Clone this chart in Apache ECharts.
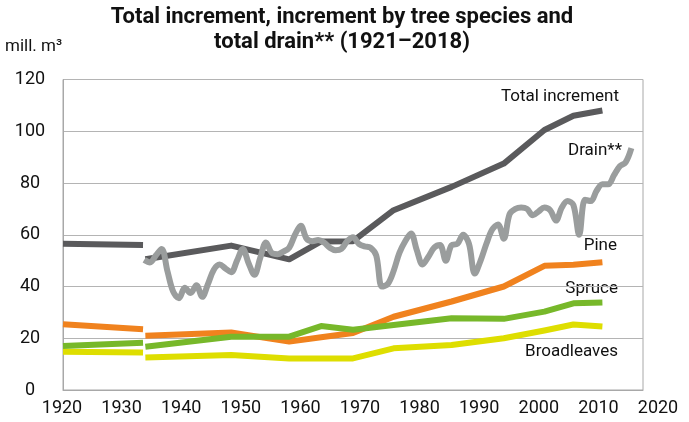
<!DOCTYPE html>
<html><head><meta charset="utf-8">
<script src="https://cdn.jsdelivr.net/npm/echarts@6/dist/echarts.min.js"></script>
<style>html,body{margin:0;padding:0;background:#fff}#c{width:689px;height:422px}</style>
</head><body><div id="c"></div>
<script>
// Increment series (inventory periods); null marks the break between the two series parts
const incYears      = [1920, 1933.8, null, 1934.2, 1949, 1959, 1964.5, 1970, 1977, 1987, 1996, 2003, 2008, 2013];
const totalIncrement= [56.5, 56,     null, 50.5,   55.8, 50.5, 57.4,   57.5, 69.5, 78.5, 87.5, 100.5, 106, 108];
const pine          = [25.4, 23.5,   null, 21,     22.2, 18.7, 20.4,   22,   28.3, 34.2, 40,   48,    48.4, 49.4];
const spruce        = [17,   18.3,   null, 16.7,   20.6, 20.6, 24.7,   23.3, 25.1, 27.7, 27.5, 30.3,  33.5, 33.8];
const broadleaves   = [14.8, 14.5,   null, 12.6,   13.5, 12.2, 12.2,   12.2, 16.1, 17.4, 20,   23,    25.3, 24.5];

// Annual total drain
const drainYears = [1934,1935,1936,1937,1938,1939,1940,1941,1942,1943,1944,1945,1946,1947,1948,1949,
  1950,1951,1952,1953,1954,1955,1956,1957,1958,1959,1960,1961,1962,1963,1964,1965,1966,1967,1968,1969,
  1970,1971,1972,1973,1974,1975,1976,1977,1978,1979,1980,1981,1982,1983,1984,1985,1986,1987,1988,1989,
  1990,1991,1992,1993,1994,1995,1996,1997,1998,1999,2000,2001,2002,2003,2004,2005,2006,2007,2008,2009,
  2010,2011,2012,2013,2014,2015,2016,2017,2018];
const drain = [50.3,49.3,52,54.5,46,38,35.5,39.5,37.5,40.5,36,41,46.5,48.5,47,45.5,
  50,54.5,49,44.5,51,57,53,52.5,53.5,55,60,63.5,58.5,57.5,58,57,55,54,54.5,57.5,
  59,56.5,55.5,55,52,40,41,46,53,57.5,60.5,54,48.5,51.5,55,56,50,56,56.5,60,
  56.5,45,50,56.5,62,64,58.5,68,70,70.5,70,67.5,69,70.5,69.5,65.5,70.5,73,71.5,60,
  73.5,73,77,79.5,79.5,83,86.5,88,93.5];

const yTicks = [0, 20, 40, 60, 80, 100, 120];
const xTicks = [1920, 1930, 1940, 1950, 1960, 1970, 1980, 1990, 2000, 2010, 2020];

function pairs(xs, ys) {
  return xs.map((x, i) => (x === null || ys[i] === null) ? [NaN, NaN] : [x, ys[i]]);
}

const FONT = 'Roboto, "Noto Sans", sans-serif';
const chart = echarts.init(document.getElementById('c'), null, {renderer: 'canvas'});

function lineSeries(name, data, color, width, smooth, z) {
  return {
    name, type: 'line', data, showSymbol: false, symbol: 'none',
    smooth: smooth, connectNulls: false, z: z, xAxisIndex: 0, yAxisIndex: 0,
    lineStyle: {color, width, cap: 'butt', join: 'round'},
    emphasis: {disabled: true}, animation: false
  };
}

chart.setOption({
  animation: false,
  backgroundColor: '#fff',
  title: {
    text: 'Total increment, increment by tree species and\ntotal drain** (1921–2018)',
    left: 337, top: 0, textAlign: 'center',
    textStyle: {fontFamily: FONT, fontWeight: 'bold', fontSize: 22, lineHeight: 25, color: '#111'}
  },
  grid: [
    {left: 63, right: 46, top: 79.5, bottom: 32, show: true, borderColor: '#a8a8a8', borderWidth: 1, backgroundColor: 'transparent'},
    // tick-label layer: in the reference the year labels run slightly wider than the plot box
    {left: 62, right: 31, top: 79.5, bottom: 32, show: false}
  ],
  xAxis: [
    {
      type: 'value', gridIndex: 0, min: xTicks[0], max: xTicks[xTicks.length - 1], interval: 10,
      axisLine: {show: true, lineStyle: {color: '#a8a8a8', width: 1}},
      axisTick: {show: false}, splitLine: {show: false}, axisLabel: {show: false}
    },
    {
      type: 'value', gridIndex: 1, min: xTicks[0], max: xTicks[xTicks.length - 1], interval: 10,
      axisLine: {show: false}, axisTick: {show: false}, splitLine: {show: false},
      axisLabel: {color: '#111', fontFamily: FONT, fontSize: 18, margin: 9,
        formatter: v => xTicks.includes(v) ? String(v) : ''}
    }
  ],
  yAxis: [
    {
      type: 'value', gridIndex: 0, min: yTicks[0], max: yTicks[yTicks.length - 1], interval: 20,
      axisLine: {show: true, lineStyle: {color: '#a8a8a8', width: 1}},
      axisTick: {show: false},
      splitLine: {show: true, lineStyle: {color: '#b4b4b4', width: 1}},
      axisLabel: {color: '#111', fontFamily: FONT, fontSize: 18, margin: 33, align: 'center',
        formatter: v => yTicks.includes(v) ? String(v) : ''}
    },
    {type: 'value', gridIndex: 1, min: 0, max: 120, show: false}
  ],
  graphic: [
    {type: 'text', left: 5, top: 38, style: {text: 'mill. m³', font: '17px ' + FONT, fill: '#111'}},
    {type: 'text', x: 619, y: 97, style: {text: 'Total increment', font: '17px ' + FONT, fill: '#111', align: 'right', verticalAlign: 'middle'}},
    {type: 'text', x: 622, y: 151, style: {text: 'Drain**', font: '17px ' + FONT, fill: '#111', align: 'right', verticalAlign: 'middle'}},
    {type: 'text', x: 617, y: 246, style: {text: 'Pine', font: '17px ' + FONT, fill: '#111', align: 'right', verticalAlign: 'middle'}},
    {type: 'text', x: 618, y: 289, style: {text: 'Spruce', font: '17px ' + FONT, fill: '#111', align: 'right', verticalAlign: 'middle'}},
    {type: 'text', x: 618, y: 352, style: {text: 'Broadleaves', font: '17px ' + FONT, fill: '#111', align: 'right', verticalAlign: 'middle'}}
  ],
  series: [
    lineSeries('Total increment', pairs(incYears, totalIncrement), '#5a5a5c', 6, false, 2),
    lineSeries('Drain**', pairs(drainYears, drain), '#9a9d9d', 6, 0.35, 3),
    lineSeries('Broadleaves', pairs(incYears, broadleaves), '#dede00', 6, false, 2),
    lineSeries('Pine', pairs(incYears, pine), '#f0821e', 6, false, 2),
    lineSeries('Spruce', pairs(incYears, spruce), '#77b82a', 6, false, 3)
  ]
});
</script>
</body></html>
